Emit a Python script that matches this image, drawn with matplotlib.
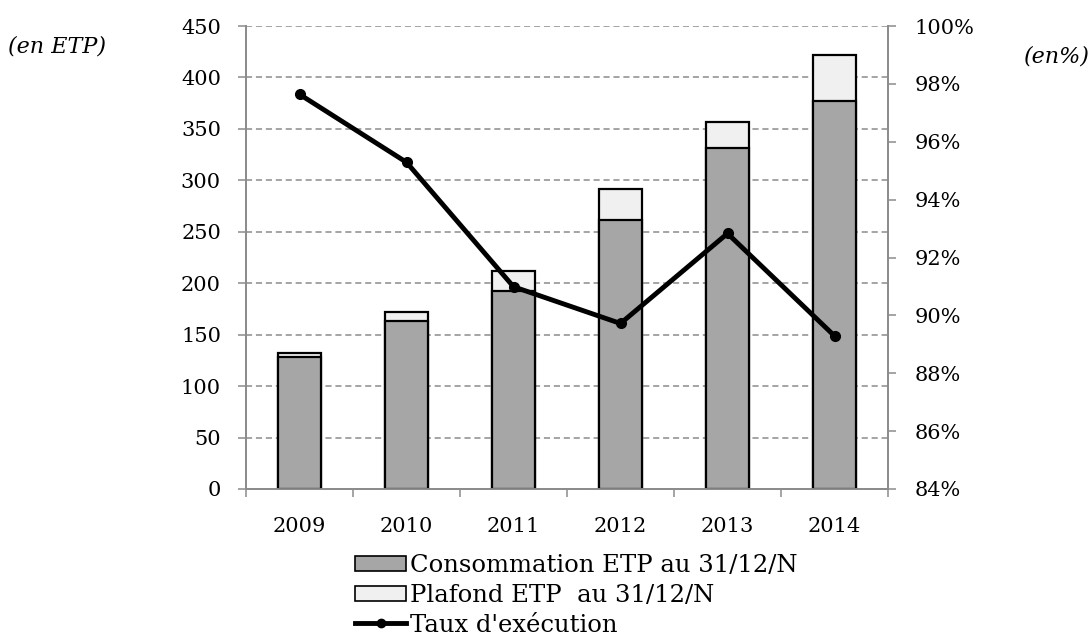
import matplotlib
matplotlib.use("Agg")
import matplotlib.pyplot as plt
from matplotlib.ticker import FixedLocator, FuncFormatter
from matplotlib.lines import Line2D
from matplotlib.patches import Patch

years = ["2009", "2010", "2011", "2012", "2013", "2014"]
consommation = [128.5, 163.6, 192.8, 261.8, 331.4, 376.8]
plafond = [131.8, 171.7, 211.9, 291.6, 356.7, 422.1]
taux = [97.64, 95.29, 90.99, 89.72, 92.83, 89.29]
left_ticks = [0, 50, 100, 150, 200, 250, 300, 350, 400, 450]
right_ticks = [84, 86, 88, 90, 92, 94, 96, 98, 100]

FONT = "DejaVu Serif"
FS = 15
FS_LEG = 17.5
plt.rcParams["font.family"] = [FONT]

fig = plt.figure(figsize=(10.92, 6.37), dpi=100)
ax = fig.add_axes([246/1092, 1-489/637, 642/1092, 463/637])
ax2 = ax.twinx()

x = list(range(len(years)))
grey_axis = "#8c8c8c"

ax.set_axisbelow(True)
ax.bar(x, plafond, width=0.41, color="#f0f0f0", edgecolor="black", linewidth=1.6, zorder=2)
ax.bar(x, consommation, width=0.41, color="#a6a6a6", edgecolor="black", linewidth=1.6, zorder=3)

ax.set_xlim(-0.5, len(years) - 0.5)
ax.set_ylim(0, 450)
ax.yaxis.set_major_locator(FixedLocator(left_ticks))
ax.grid(axis="y", color="#8c8c8c", linestyle=(0, (4, 2.5)), linewidth=1.1)
ax.tick_params(axis="y", direction="out", length=6, width=1.1, color=grey_axis,
               labelsize=FS, pad=12)

ax.xaxis.set_major_locator(FixedLocator([i - 0.5 for i in range(len(years) + 1)]))
ax.xaxis.set_major_formatter(FuncFormatter(lambda v, p: ""))
ax.xaxis.set_minor_locator(FixedLocator(x))
ax.set_xticklabels(years, minor=True)
ax.tick_params(axis="x", which="major", direction="out", length=6, width=1.1, color=grey_axis)
ax.tick_params(axis="x", which="minor", length=0, labelsize=FS, pad=20)

for s in ["top"]:
    ax.spines[s].set_visible(False)
    ax2.spines[s].set_visible(False)
for s in ["left", "bottom", "right"]:
    ax.spines[s].set_color(grey_axis)
    ax.spines[s].set_linewidth(1.3)
    ax2.spines[s].set_color(grey_axis)
    ax2.spines[s].set_linewidth(1.3)

ax2.plot(x, taux, color="black", linewidth=3.5, marker="o", markersize=7, zorder=5)
ax2.set_ylim(84, 100)
ax2.yaxis.set_major_locator(FixedLocator(right_ticks))
ax2.yaxis.set_major_formatter(FuncFormatter(lambda v, p: f"{v:.0f}%"))
ax2.tick_params(axis="y", direction="out", length=6, width=1.1, color=grey_axis,
                labelsize=FS, pad=13)

fig.text(8/1092, 1-47/637, "(en ETP)", fontsize=16, style="italic", va="center", ha="left")
fig.text(1090/1092, 1-56/637, "(en%)", fontsize=16, style="italic", va="center", ha="right")

handles = [
    Patch(facecolor="#a6a6a6", edgecolor="black", linewidth=1.2),
    Patch(facecolor="#f0f0f0", edgecolor="black", linewidth=1.2),
    Line2D([0], [0], color="black", linewidth=3.5, marker="o", markersize=6),
]
labels = ["Consommation ETP au 31/12/N", "Plafond ETP  au 31/12/N", "Taux d'exécution"]
fig.legend(handles, labels, loc="upper left", bbox_to_anchor=(355/1092, 1-554/637),
           frameon=False, fontsize=FS_LEG, handlelength=2.1, handleheight=0.6,
           handletextpad=0.15, labelspacing=0.28, borderpad=0, borderaxespad=0)

fig.savefig("out.png", dpi=100)
